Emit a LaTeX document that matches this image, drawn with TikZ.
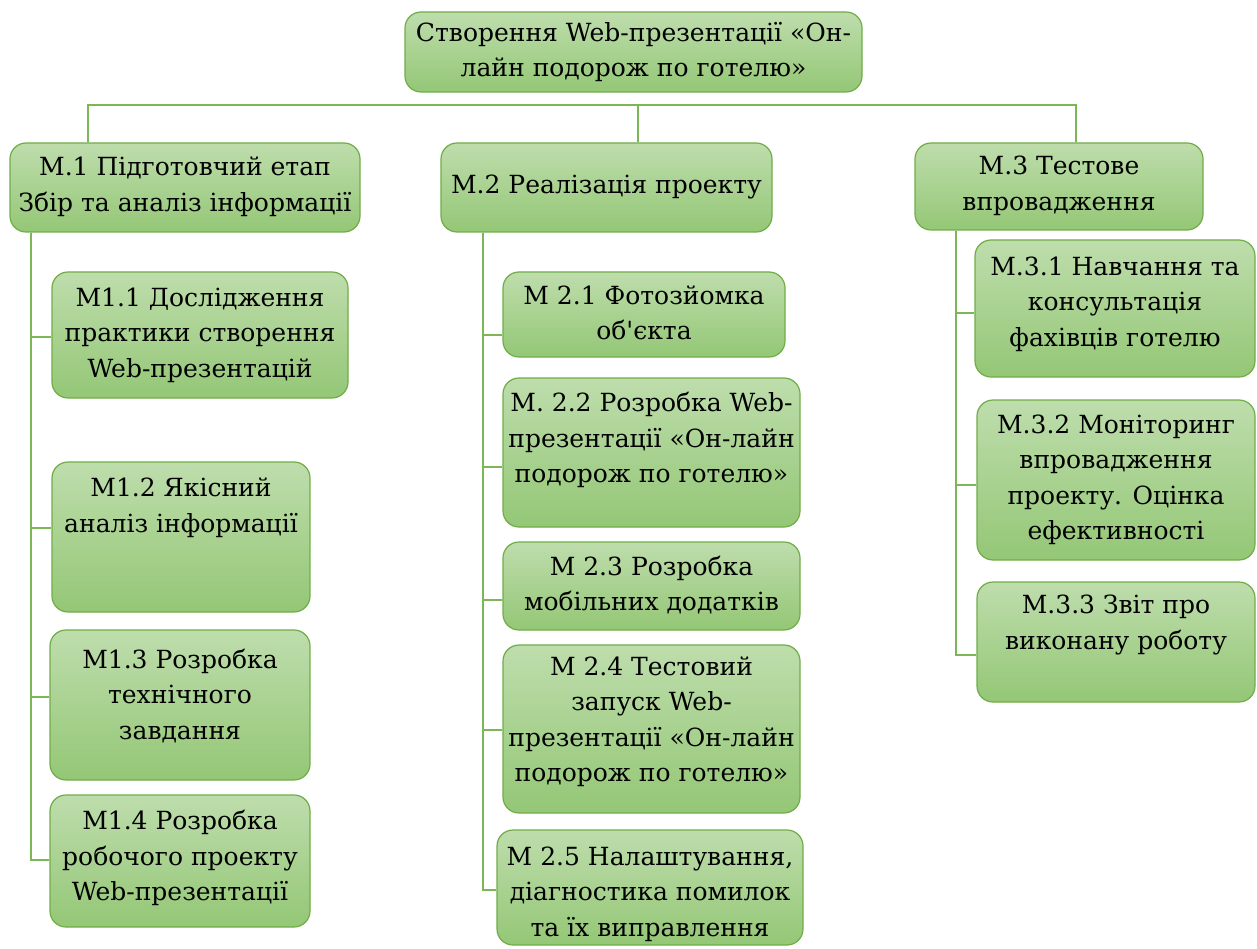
\documentclass[tikz,border=0pt]{standalone}
\usepackage{fontspec}
\newfontfamily\tnr{DejaVu Serif}
\definecolor{boxtop}{RGB}{190,221,172}
\definecolor{boxbot}{RGB}{148,199,118}
\definecolor{boxline}{RGB}{112,173,71}
\definecolor{conncol}{RGB}{125,182,86}
\tikzset{
  gbox/.style={draw=boxline, line width=1.2pt, rounded corners=16pt,
    top color=boxtop, bottom color=boxbot, inner sep=0pt},
  gtxt/.style={align=center, inner sep=0pt, font=\tnr\fontsize{25}{35.5}\selectfont, text=black},
  conn/.style={draw=conncol, line width=1.5pt}
}
\newcommand{\gb}[8]{%
  % name, cx, cy, w, h, text-y, text
  \node[gbox, minimum width=#4pt, minimum height=#5pt] (#1) at (#2,#3) {};
  \node[gtxt] (#1-t) at (#2+#8,#6) {#7};
}
\begin{document}
\begin{tikzpicture}[x=1pt,y=-1pt]
\useasboundingbox[fill=white] (0,0) rectangle (1257,949);
% top
\gb{top}{633.5}{52}{457}{80}{52}{Створення Web-презентації «Он-\\лайн подорож по готелю»}{0}
% level 1
\gb{m1}{185}{187.5}{350}{89}{187}{М.1 Підготовчий етап\\Збір та аналіз інформації}{0}
\gb{m2}{606.5}{187.5}{331}{89}{187}{М.2 Реалізація проекту}{0}
\gb{m3}{1059}{186.5}{288}{87}{186}{М.3 Тестове\\впровадження}{0}
% column 1
\gb{m11}{200}{335}{296}{126}{335}{М1.1 Дослідження\\практики створення\\Web-презентацій}{0}
\gb{m12}{181}{537}{258}{150}{508}{М1.2 Якісний\\аналіз інформації}{0}
\gb{m13}{180}{705}{260}{150}{696}{М1.3 Розробка\\технічного\\завдання}{0}
\gb{m14}{180}{861}{260}{132}{858}{М1.4 Розробка\\робочого проекту\\Web-презентації}{0}
% column 2
\gb{m21}{644}{314.5}{282}{85}{313}{М 2.1 Фотозйомка\\об'єкта}{0}
\gb{m22}{651.5}{452.5}{297}{149}{440}{М. 2.2 Розробка Web-\\презентації «Он-лайн\\подорож по готелю»}{0}
\gb{m23}{651.5}{586}{297}{88}{585}{М 2.3 Розробка\\мобільних додатків}{0}
\gb{m24}{651.5}{729}{297}{168}{722}{М 2.4 Тестовий\\запуск Web-\\презентації «Он-лайн\\подорож по готелю»}{0}
\gb{m25}{650}{887.5}{306}{115}{894}{М 2.5 Налаштування,\\діагностика помилок\\та їх виправлення}{0}
% column 3
\gb{m31}{1115}{308.5}{280}{137}{304}{М.3.1 Навчання та\\консультація\\фахівців готелю}{0}
\gb{m32}{1116}{480}{278}{160}{480}{М.3.2 Моніторинг\\впровадження\\проекту. Оцінка\\ефективності}{0}
\gb{m33}{1116}{642}{278}{120}{625}{М.3.3 Звіт про\\виконану роботу}{0}
% connectors
\coordinate (bus) at (638,105);
\draw[conn] (m1.north -| 88,0) |- (bus) -| (m3.north -| 1076,0);
\draw[conn] (bus) -- (m2.north -| bus);
\foreach \c/\y in {m11/337, m12/528, m13/697, m14/860}
  \draw[conn] (m1.south -| 31,0) |- (\c.west |- 0,\y);
\foreach \c/\y in {m21/335, m22/467, m23/600, m24/730, m25/890}
  \draw[conn] (m2.south -| 483,0) |- (\c.west |- 0,\y);
\foreach \c/\y in {m31/313, m32/485, m33/655}
  \draw[conn] (m3.south -| 956,0) |- (\c.west |- 0,\y);
\end{tikzpicture}
\end{document}
